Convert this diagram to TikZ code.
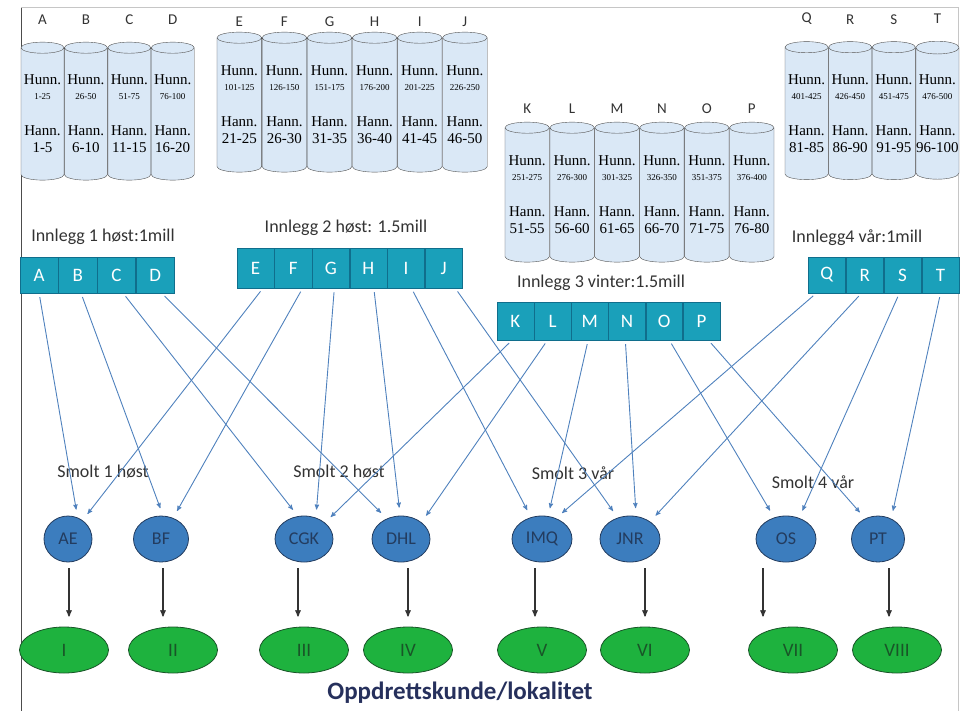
\documentclass[tikz,border=0pt]{standalone}
\usepackage{fontspec}
\setmainfont{Carlito}
\newfontfamily\tnr{Liberation Serif}
\usetikzlibrary{arrows,positioning,shapes.geometric}

\definecolor{cylfill}{RGB}{218,232,246}
\definecolor{cyledge}{RGB}{80,80,80}
\definecolor{tealbox}{RGB}{26,160,186}
\definecolor{tealedge}{RGB}{16,110,140}
\definecolor{smoltblue}{RGB}{60,125,190}
\definecolor{smoltedge}{RGB}{35,60,95}
\definecolor{kundegreen}{RGB}{30,178,62}
\definecolor{kundeedge}{RGB}{25,85,40}
\definecolor{linkblue}{RGB}{79,129,189}
\definecolor{titlenavy}{RGB}{38,48,92}

\newcommand{\rng}[1]{{\fontsize{9}{10}\selectfont #1}}

\begin{document}
\begin{tikzpicture}[x=1pt,y=-1pt,
  tank/.style={cylinder,shape border rotate=90,aspect=0.3,draw=cyledge,
    cylinder uses custom fill,cylinder body fill=cylfill,cylinder end fill=cylfill,
    minimum height=138pt,inner sep=0pt,align=center,
    font=\tnr\fontsize{15}{17}\selectfont},
  tanklabel/.style={inner sep=0pt,font=\fontsize{15}{17}\selectfont,text=black!80},
  box/.style={rectangle,fill=tealbox,draw=tealedge,text=white,inner sep=0pt,
    font=\fontsize{19}{21}\selectfont},
  smolt/.style={ellipse,fill=smoltblue,draw=smoltedge,thick,minimum width=56pt,
    minimum height=46pt,inner sep=0pt,text=smoltedge,font=\fontsize{18}{20}\selectfont},
  kunde/.style={ellipse,fill=kundegreen,draw=kundeedge,thick,minimum width=89pt,
    minimum height=46pt,inner sep=0pt,text=kundeedge,font=\fontsize{19}{21}\selectfont},
  lbl/.style={font=\fontsize{18}{20}\selectfont,text=black!80},
  link/.style={->,>=stealth',color=linkblue,line width=0.9pt,shorten <=4pt,shorten >=8pt},
  feed/.style={->,>=stealth',draw=black!80,line width=1.3pt,shorten <=6pt,shorten >=10pt}]

\useasboundingbox (0,0) rectangle (961,710);
% frame
\draw[black!70,line width=1pt] (21,7) -- (21,712);
\draw[gray!45] (21,7) -- (958,7) -- (958,712);

% tanks, first group
  \node[tank,minimum width=43pt] (cA) at (42.5,114) {Hunn.\\[-2pt]\rng{1-25}\\[19pt]Hann.\\1-5};
  \node[tank,minimum width=43pt] (cB) [right=0pt of cA] {Hunn.\\[-2pt]\rng{26-50}\\[19pt]Hann.\\6-10};
  \node[tank,minimum width=43pt] (cC) [right=0pt of cB] {Hunn.\\[-2pt]\rng{51-75}\\[19pt]Hann.\\11-15};
  \node[tank,minimum width=43pt] (cD) [right=0pt of cC] {Hunn.\\[-2pt]\rng{76-100}\\[19pt]Hann.\\16-20};

% tanks, second group
  \node[tank,minimum width=44.7pt,minimum height=140pt] (cE) at (239.3,105) {Hunn.\\[-2pt]\rng{101-125}\\[19pt]Hann.\\21-25};
  \node[tank,minimum width=44.7pt,minimum height=140pt] (cF) [right=0pt of cE] {Hunn.\\[-2pt]\rng{126-150}\\[19pt]Hann.\\26-30};
  \node[tank,minimum width=44.7pt,minimum height=140pt] (cG) [right=0pt of cF] {Hunn.\\[-2pt]\rng{151-175}\\[19pt]Hann.\\31-35};
  \node[tank,minimum width=44.7pt,minimum height=140pt] (cH) [right=0pt of cG] {Hunn.\\[-2pt]\rng{176-200}\\[19pt]Hann.\\36-40};
  \node[tank,minimum width=44.7pt,minimum height=140pt] (cI) [right=0pt of cH] {Hunn.\\[-2pt]\rng{201-225}\\[19pt]Hann.\\41-45};
  \node[tank,minimum width=44.7pt,minimum height=140pt] (cJ) [right=0pt of cI] {Hunn.\\[-2pt]\rng{226-250}\\[19pt]Hann.\\46-50};

% tanks, third group
  \node[tank,minimum width=44.5pt,minimum height=140pt] (cK) at (527.2,195) {Hunn.\\[-2pt]\rng{251-275}\\[19pt]Hann.\\51-55};
  \node[tank,minimum width=44.5pt,minimum height=140pt] (cL) [right=0pt of cK] {Hunn.\\[-2pt]\rng{276-300}\\[19pt]Hann.\\56-60};
  \node[tank,minimum width=44.5pt,minimum height=140pt] (cM) [right=0pt of cL] {Hunn.\\[-2pt]\rng{301-325}\\[19pt]Hann.\\61-65};
  \node[tank,minimum width=44.5pt,minimum height=140pt] (cN) [right=0pt of cM] {Hunn.\\[-2pt]\rng{326-350}\\[19pt]Hann.\\66-70};
  \node[tank,minimum width=44.5pt,minimum height=140pt] (cO) [right=0pt of cN] {Hunn.\\[-2pt]\rng{351-375}\\[19pt]Hann.\\71-75};
  \node[tank,minimum width=44.5pt,minimum height=140pt] (cP) [right=0pt of cO] {Hunn.\\[-2pt]\rng{376-400}\\[19pt]Hann.\\76-80};

% tanks, fourth group
  \node[tank,minimum width=43.2pt] (cQ) at (806.6,113.5) {Hunn.\\[-2pt]\rng{401-425}\\[19pt]Hann.\\81-85};
  \node[tank,minimum width=43.2pt] (cR) [right=0pt of cQ] {Hunn.\\[-2pt]\rng{426-450}\\[19pt]Hann.\\86-90};
  \node[tank,minimum width=43.2pt] (cS) [right=0pt of cR] {Hunn.\\[-2pt]\rng{451-475}\\[19pt]Hann.\\91-95};
  \node[tank,minimum width=43.2pt] (cT) [right=0pt of cS] {Hunn.\\[-2pt]\rng{476-500}\\[19pt]Hann.\\96-100};

% tank letters
  \node[tanklabel] (lA) [above=17pt of cA] {A};
  \node[tanklabel] (lB) [above=17pt of cB] {B};
  \node[tanklabel] (lC) [above=17pt of cC] {C};
  \node[tanklabel] (lD) [above=17pt of cD] {D};
  \node[tanklabel] (lE) [above=5pt of cE] {E};
  \node[tanklabel] (lF) [above=5pt of cF] {F};
  \node[tanklabel] (lG) [above=5pt of cG] {G};
  \node[tanklabel] (lH) [above=5pt of cH] {H};
  \node[tanklabel] (lI) [above=5pt of cI] {I};
  \node[tanklabel] (lJ) [above=5pt of cJ] {J};
  \node[tanklabel] (lK) [above=8pt of cK] {K};
  \node[tanklabel] (lL) [above=8pt of cL] {L};
  \node[tanklabel] (lM) [above=8pt of cM] {M};
  \node[tanklabel] (lN) [above=8pt of cN] {N};
  \node[tanklabel] (lO) [above=8pt of cO] {O};
  \node[tanklabel] (lP) [above=8pt of cP] {P};
  \node[tanklabel] (lQ) [above=17pt of cQ] {Q};
  \node[tanklabel] (lR) [above=17pt of cR] {R};
  \node[tanklabel] (lS) [above=17pt of cS] {S};
  \node[tanklabel] (lT) [above=17pt of cT] {T};

% innlegg rows
  \node[lbl] (inn1) at (103,237) {Innlegg 1 høst:1mill};
  \node[box,minimum width=38.3pt,minimum height=36pt] (A) at (39.1,275) {A};
  \node[box,minimum width=38.3pt,minimum height=36pt] (B) [right=0pt of A] {B};
  \node[box,minimum width=38.3pt,minimum height=36pt] (C) [right=0pt of B] {C};
  \node[box,minimum width=38.3pt,minimum height=36pt] (D) [right=0pt of C] {D};

  \node[lbl] (inn2) at (346,228) {Innlegg 2 høst: 1.5mill};
  \node[box,minimum width=37.2pt,minimum height=40pt] (E) at (255.6,268) {E};
  \node[box,minimum width=37.2pt,minimum height=40pt] (F) [right=0pt of E] {F};
  \node[box,minimum width=37.2pt,minimum height=40pt] (G) [right=0pt of F] {G};
  \node[box,minimum width=37.2pt,minimum height=40pt] (H) [right=0pt of G] {H};
  \node[box,minimum width=37.2pt,minimum height=40pt] (I) [right=0pt of H] {I};
  \node[box,minimum width=37.2pt,minimum height=40pt] (J) [right=0pt of I] {J};

  \node[lbl] (inn3) at (601,283) {Innlegg 3 vinter:1.5mill};
  \node[box,minimum width=36.8pt,minimum height=38pt] (K) at (515.4,321) {K};
  \node[box,minimum width=36.8pt,minimum height=38pt] (L) [right=0pt of K] {L};
  \node[box,minimum width=36.8pt,minimum height=38pt] (M) [right=0pt of L] {M};
  \node[box,minimum width=36.8pt,minimum height=38pt] (N) [right=0pt of M] {N};
  \node[box,minimum width=36.8pt,minimum height=38pt] (O) [right=0pt of N] {O};
  \node[box,minimum width=36.8pt,minimum height=38pt] (P) [right=0pt of O] {P};

  \node[lbl] (inn4) at (857,238) {Innlegg4 vår:1mill};
  \node[box,minimum width=37.5pt,minimum height=36pt] (Q) at (826.8,275) {Q};
  \node[box,minimum width=37.5pt,minimum height=36pt] (R) [right=0pt of Q] {R};
  \node[box,minimum width=37.5pt,minimum height=36pt] (S) [right=0pt of R] {S};
  \node[box,minimum width=37.5pt,minimum height=36pt] (T) [right=0pt of S] {T};

% smolt
  \node[lbl] (sm1) at (103,472) {Smolt 1 høst};
  \node[lbl] (sm2) at (339,472) {Smolt 2 høst};
  \node[lbl] (sm3) at (573,473) {Smolt 3 vår};
  \node[lbl] (sm4) at (813,482) {Smolt 4 vår};

  \node[smolt,minimum width=48pt] (AE) at (68,539) {AE};
  \node[smolt,minimum width=55pt] (BF) at (161,539) {BF};
  \node[smolt,minimum width=58pt] (CGK) at (304,539) {CGK};
  \node[smolt,minimum width=58pt] (DHL) at (401,539) {DHL};
  \node[smolt,minimum width=60pt] (IMQ) at (542,539) {IMQ};
  \node[smolt,minimum width=60pt] (JNR) at (630,539) {JNR};
  \node[smolt,minimum width=60pt] (OS) at (786,539) {OS};
  \node[smolt,minimum width=53pt] (PT) at (878,539) {PT};

% kunder
  \node[kunde] (k1) at (64,650) {I};
  \node[kunde] (k2) at (173,650) {II};
  \node[kunde] (k3) at (304,650) {III};
  \node[kunde] (k4) at (408,650) {IV};
  \node[kunde] (k5) at (542,650) {V};
  \node[kunde] (k6) at (645,650) {VI};
  \node[kunde] (k7) at (793,650) {VII};
  \node[kunde] (k8) at (897,650) {VIII};

  \node[font=\bfseries\fontsize{25}{28}\selectfont,text=titlenavy] (lok) at (460,693) {Oppdrettskunde/lokalitet};

% innlegg -> smolt
  \path[link]
    (A.south) edge (AE.66)
    (E.-70) edge (AE.52)
    (B.-80) edge (BF.85)
    (F.-65) edge (BF.60)
    (C.-70) edge (CGK.105)
    (G.-80) edge (CGK.61)
    (K.-100) edge (CGK.38)
    (D.-70) edge (DHL.125)
    (H.-75) edge (DHL.92)
    (L.-105) edge (DHL.39)
    (I.-75) edge (IMQ.117)
    (M.-95) edge (IMQ.75)
    (Q.-120) edge (IMQ.56)
    (J.-60) edge (JNR.120)
    (N.-95) edge (JNR.75)
    (R.-100) edge (JNR.41)
    (O.-75) edge (OS.119)
    (S.-100) edge (OS.58)
    (P.-70) edge (PT.122)
    (T.south) edge (PT.57);

% smolt -> kunde
  \draw[feed] ([xshift=1pt]AE.south) -- ([xshift=1pt]AE.south |- k1.north);
  \draw[feed] ([xshift=2pt]BF.south) -- ([xshift=2pt]BF.south |- k2.north);
  \draw[feed] ([xshift=-6pt]CGK.south) -- ([xshift=-6pt]CGK.south |- k3.north);
  \draw[feed] ([xshift=7pt]DHL.south) -- ([xshift=7pt]DHL.south |- k4.north);
  \draw[feed] ([xshift=-7pt]IMQ.south) -- ([xshift=-7pt]IMQ.south |- k5.north);
  \draw[feed] ([xshift=15pt]JNR.south) -- ([xshift=15pt]JNR.south |- k6.north);
  \draw[feed] ([xshift=-23pt]OS.south) -- ([xshift=-23pt]OS.south |- k7.north);
  \draw[feed] ([xshift=11pt]PT.south) -- ([xshift=11pt]PT.south |- k8.north);

\end{tikzpicture}
\end{document}
